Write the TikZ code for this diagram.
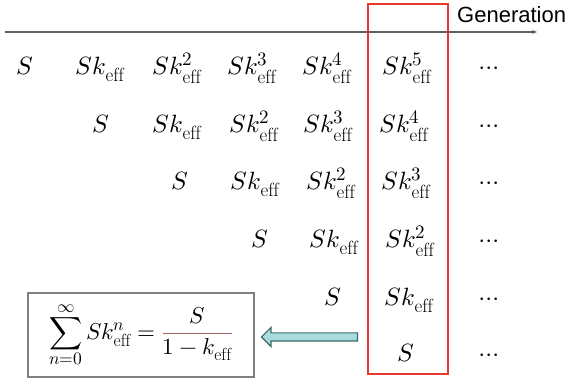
\documentclass[tikz,border=0pt]{standalone}
\usepackage{fontspec}
\usepackage{unicode-math}
\setmathfont{Latin Modern Math}
\newfontfamily\labelfont{Liberation Sans}
\usetikzlibrary{shapes.arrows, arrows.meta}

% larger sub/superscripts for the big terms
\DeclareMathSizes{25}{25}{19}{15}
\DeclareMathSizes{23}{23}{17.5}{14}

\definecolor{axisgray}{HTML}{5F5F5F}
\definecolor{windowred}{HTML}{E8352E}
\definecolor{boxgray}{HTML}{7F7F7F}
\definecolor{flowfill}{HTML}{A8DCDC}
\definecolor{flowline}{HTML}{3F6A6A}
\definecolor{fracbar}{HTML}{A0645A}

\newcommand{\keff}{k_{\mathrm{eff}}}

\tikzset{
  term/.style={anchor=base, inner sep=0pt, font=\fontsize{25}{30}\selectfont},
  dots/.style={anchor=base, inner sep=0pt, font=\fontsize{25}{30}\selectfont},
  axisline/.style={draw=axisgray, line width=1.3pt, -{Stealth[length=5pt,width=4pt]}},
  window/.style={draw=windowred, line width=2pt},
  sumframe/.style={draw=boxgray, line width=1.2pt, font=\fontsize{23}{27}\selectfont},
  flowarrow/.style={single arrow, shape border rotate=180, draw=flowline, fill=flowfill,
    line width=1.2pt, inner sep=3.5pt, single arrow head extend=5.5pt,
    single arrow head indent=0pt, minimum height=96pt},
}

\begin{document}
\begin{tikzpicture}[x=1pt, y=-1pt]
  \useasboundingbox (0,0) rectangle (579,379);

  % generation axis
  \coordinate (axstart) at (5,32);
  \coordinate (axend) at (537,32);
  \draw[axisline] (axstart) -- (axend);
  \node[anchor=base west, inner sep=0pt, font=\labelfont\fontsize{22}{26}\selectfont]
    (gen) at (457,23) {Generation};

  % highlighted column
  \node[window, minimum width=80pt, minimum height=370pt] (col) at (407.5,189) {};

  % row 1
  \node[term] (a1) at (25,75)  {$S$};
  \node[term] (a2) at (100,75) {$S\keff$};
  \node[term] (a3) at (177,75) {$S\keff^{2}$};
  \node[term] (a4) at (252,75) {$S\keff^{3}$};
  \node[term] (a5) at (327,75) {$S\keff^{4}$};
  \node[term] (a6) at (407,75) {$S\keff^{5}$};
  \node[dots] (a7) at (489,75) {$\cdots$};

  % row 2
  \node[term] (b2) at (101,133) {$S$};
  \node[term] (b3) at (177,133) {$S\keff$};
  \node[term] (b4) at (254,133) {$S\keff^{2}$};
  \node[term] (b5) at (328,133) {$S\keff^{3}$};
  \node[term] (b6) at (404,133) {$S\keff^{4}$};
  \node[dots] (b7) at (489,133) {$\cdots$};

  % row 3
  \node[term] (c3) at (180,190) {$S$};
  \node[term] (c4) at (255,190) {$S\keff$};
  \node[term] (c5) at (331,190) {$S\keff^{2}$};
  \node[term] (c6) at (406,190) {$S\keff^{3}$};
  \node[dots] (c7) at (489,190) {$\cdots$};

  % row 4
  \node[term] (d4) at (260,248) {$S$};
  \node[term] (d5) at (334,248) {$S\keff$};
  \node[term] (d6) at (410,248) {$S\keff^{2}$};
  \node[dots] (d7) at (489,248) {$\cdots$};

  % row 5
  \node[term] (e5) at (333,306) {$S$};
  \node[term] (e6) at (409,306) {$S\keff$};
  \node[dots] (e7) at (489,306) {$\cdots$};

  % row 6
  \node[term] (f6) at (406,362) {$S$};
  \node[dots] (f7) at (489,362) {$\cdots$};

  % closed form of the series
  \node[sumframe, minimum width=226pt, minimum height=84pt] (sumbox) at (141,335)
    {$\displaystyle\sum_{n=0}^{\infty} S\keff^{n}
      = {\color{fracbar}\frac{\color{black}S}{\color{black}1-\keff}}$};

  % arrow from the column to the sum
  \node[flowarrow, anchor=tail] (flow) at (358,337) {};
\end{tikzpicture}
\end{document}
